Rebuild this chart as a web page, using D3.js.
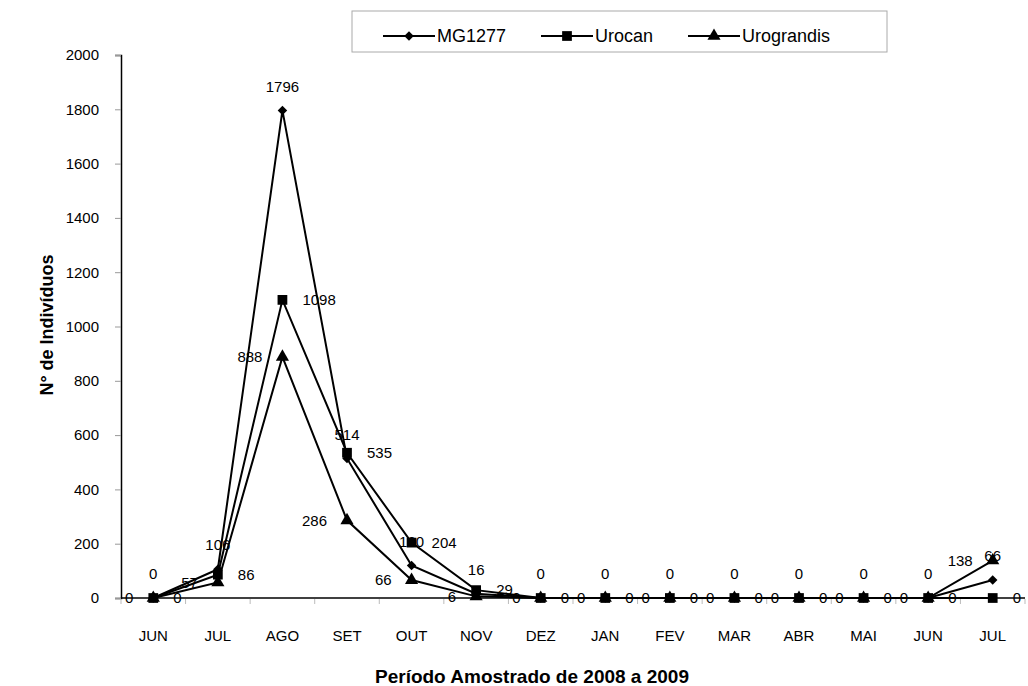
<!DOCTYPE html>
<html>
<head>
<meta charset="utf-8">
<script src="https://cdn.jsdelivr.net/npm/d3@7"></script>
<style>
  body { margin: 0; background: #fff; }
  text { font-family: "Liberation Sans", Arial, sans-serif; fill: #000; }
</style>
</head>
<body>
<div id="chart"></div>
<script>
// chart size
var width = 1028,
    height = 686;

var margin = {top: 55, right: 3, bottom: 88, left: 121};

// data
var months = ["JUN", "JUL", "AGO", "SET", "OUT", "NOV", "DEZ", "JAN", "FEV", "MAR", "ABR", "MAI", "JUN", "JUL"];
var seriesNames = ["MG1277", "Urocan", "Urograndis"];
var mg1277 = [0, 106, 1796, 514, 120, 16, 0, 0, 0, 0, 0, 0, 0, 66];
var urocan = [0, 86, 1098, 535, 204, 29, 0, 0, 0, 0, 0, 0, 0, 0];
var urogrande = [0, 57, 888, 286, 66, 6, 0, 0, 0, 0, 0, 0, 0, 138];
var yTicks = [0, 200, 400, 600, 800, 1000, 1200, 1400, 1600, 1800, 2000];

var series = [
    {name: seriesNames[0], values: mg1277, symbol: "diamond", label: "top"},
    {name: seriesNames[1], values: urocan, symbol: "square", label: "right"},
    {name: seriesNames[2], values: urogrande, symbol: "triangle", label: "left"}
];

var svg = d3.select("#chart")
    .append("svg")
    .attr("width", width)
    .attr("height", height);

var innerW = width - margin.left - margin.right,
    innerH = height - margin.top - margin.bottom;

var g = svg.append("g")
    .attr("transform", "translate(" + margin.left + "," + margin.top + ")");

// one band per month, points in the middle
var x = d3.scaleBand()
    .domain(d3.range(months.length))
    .range([0, innerW]);

var y = d3.scaleLinear()
    .domain([0, 2000])
    .range([innerH, 0]);

// y axis
var yAxis = g.append("g")
    .call(d3.axisLeft(y).tickValues(yTicks).tickSize(6).tickPadding(16).tickFormat(d3.format("d")));
yAxis.select(".domain").attr("stroke", "#000").attr("stroke-width", 1.5);
yAxis.selectAll(".tick line").attr("stroke", "#999");
yAxis.selectAll(".tick text").attr("font-size", "15px").attr("fill", "#000")
    .style("font-family", "'Liberation Sans', Arial, sans-serif");

// x axis: ticks between the months
var xAxis = g.append("g")
    .attr("transform", "translate(0," + innerH + ")");
xAxis.append("line")
    .attr("x1", 0).attr("x2", innerW)
    .attr("stroke", "#000").attr("stroke-width", 1.5);
xAxis.selectAll(".xtick")
    .data(d3.range(months.length + 1))
    .enter().append("line")
    .attr("class", "xtick")
    .attr("x1", function(d) { return d * x.step(); })
    .attr("x2", function(d) { return d * x.step(); })
    .attr("y1", 1).attr("y2", 6)
    .attr("stroke", "#bbb");
xAxis.selectAll(".xlabel")
    .data(months)
    .enter().append("text")
    .attr("class", "xlabel")
    .attr("x", function(d, i) { return x(i) + x.bandwidth() / 2; })
    .attr("y", 43)
    .attr("text-anchor", "middle")
    .attr("font-size", "15px")
    .text(function(d) { return d; });

// axis titles
svg.append("text")
    .attr("x", 532)
    .attr("y", 683)
    .attr("text-anchor", "middle")
    .attr("font-size", "19px")
    .attr("font-weight", "bold")
    .text("Período Amostrado de 2008 a 2009");

svg.append("text")
    .attr("transform", "translate(53,325) rotate(-90)")
    .attr("text-anchor", "middle")
    .attr("font-size", "18px")
    .attr("font-weight", "bold")
    .text("N° de Indivíduos");

// marker shapes
function markerPath(type) {
    if (type === "diamond") return d3.symbol().type(d3.symbolSquare).size(45)();
    if (type === "square") return d3.symbol().type(d3.symbolSquare).size(95)();
    return d3.symbol().type(d3.symbolTriangle).size(75)();
}

var line = d3.line()
    .x(function(d, i) { return x(i) + x.bandwidth() / 2; })
    .y(function(d) { return y(d); });

series.forEach(function(s) {
    g.append("path")
        .datum(s.values)
        .attr("fill", "none")
        .attr("stroke", "#000")
        .attr("stroke-width", 2)
        .attr("d", line);
});

series.forEach(function(s) {
    g.selectAll(".mk-" + s.symbol)
        .data(s.values)
        .enter().append("path")
        .attr("class", "mk-" + s.symbol)
        .attr("d", markerPath(s.symbol))
        .attr("transform", function(d, i) {
            var t = "translate(" + (x(i) + x.bandwidth() / 2) + "," + y(d) + ")";
            return s.symbol === "diamond" ? t + " rotate(45)" : t;
        })
        .attr("fill", "#000");
});

// data labels: MG1277 above, Urocan right, Urograndis left
series.forEach(function(s) {
    g.selectAll(".lb-" + s.symbol)
        .data(s.values)
        .enter().append("text")
        .attr("class", "lb-" + s.symbol)
        .attr("font-size", "15px")
        .attr("dy", "0.35em")
        .attr("text-anchor", s.label === "top" ? "middle" : (s.label === "right" ? "start" : "end"))
        .attr("x", function(d, i) {
            var cx = x(i) + x.bandwidth() / 2;
            if (s.label === "right") return cx + 20;
            if (s.label === "left") return cx - 20;
            return cx;
        })
        .attr("y", function(d) { return s.label === "top" ? y(d) - 24 : y(d); })
        .text(function(d) { return d; });
});

// legend
var legend = svg.append("g").attr("transform", "translate(352,11)");
legend.append("rect")
    .attr("width", 535).attr("height", 41)
    .attr("fill", "#fff").attr("stroke", "#aaa");

var legendX = [31, 189, 336];
var legendItem = legend.selectAll(".legend")
    .data(series)
    .enter().append("g")
    .attr("class", "legend")
    .attr("transform", function(d, i) { return "translate(" + legendX[i] + ",25)"; });

legendItem.append("line")
    .attr("x1", 0).attr("x2", 52)
    .attr("stroke", "#000").attr("stroke-width", 2);
legendItem.append("path")
    .attr("d", function(d) { return markerPath(d.symbol); })
    .attr("transform", function(d) { return d.symbol === "diamond" ? "translate(26,0) rotate(45)" : "translate(26,0)"; })
    .attr("fill", "#000");
legendItem.append("text")
    .attr("x", 54)
    .attr("dy", "0.35em")
    .attr("font-size", "18px")
    .text(function(d) { return d.name; });
</script>
</body>
</html>
